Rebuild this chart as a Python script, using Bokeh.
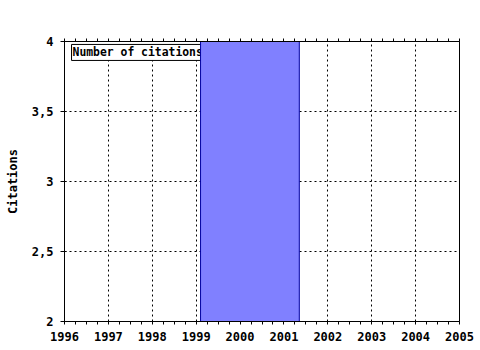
from bokeh.plotting import figure
from bokeh.models import FixedTicker, LinearAxis, Label, Range1d, CustomJSTickFormatter
from bokeh.embed import file_html
from bokeh.resources import INLINE

# Data
bar_left = [1999.1]
bar_right = [2001.35]
bar_value = [4]
years = [1996, 1997, 1998, 1999, 2000, 2001, 2002, 2003, 2004, 2005]
y_ticks = [2, 2.5, 3, 3.5, 4]
y_tick_labels = ["2", "2,5", "3", "3,5", "4"]
series_name = "Number of citations"
y_title = "Citations"

FONT = "DejaVu Sans Mono"

p = figure(width=480, height=350, output_backend="svg", toolbar_location=None,
           x_range=Range1d(years[0], years[-1]), y_range=Range1d(y_ticks[0], y_ticks[-1]),
           min_border_left=64, min_border_right=21, min_border_top=41, min_border_bottom=29,
           x_axis_location="below")
p.background_fill_color = "white"
p.border_fill_color = "white"
p.outline_line_color = "black"
p.outline_line_width = 1

minor = [y + q / 4 for y in years[:-1] for q in (1, 2, 3)]
xt = FixedTicker(ticks=years, minor_ticks=minor)
yt = FixedTicker(ticks=y_ticks)

p.xaxis.ticker = xt
p.yaxis.ticker = yt
p.yaxis.major_label_overrides = {t: l for t, l in zip(y_ticks, y_tick_labels)}

for ax in (p.xaxis[0], p.yaxis[0]):
    ax.axis_line_color = "black"
    ax.major_tick_line_color = "black"
    ax.minor_tick_line_color = "black"
    ax.major_label_text_font = FONT
    ax.major_label_text_font_style = "bold"
    ax.major_label_text_font_size = "12px"
    ax.major_label_text_color = "black"

p.xaxis.major_tick_in = 0
p.xaxis.major_tick_out = 3
p.xaxis.minor_tick_in = 0
p.xaxis.minor_tick_out = 3
p.xaxis.major_label_standoff = 7

p.yaxis.major_tick_in = 2
p.yaxis.major_tick_out = 4
p.yaxis.minor_tick_line_color = None
p.yaxis.major_label_standoff = 7
p.yaxis.axis_label = y_title
p.yaxis.axis_label_text_font = FONT
p.yaxis.axis_label_text_font_style = "bold"
p.yaxis.axis_label_text_font_size = "12px"
p.yaxis.axis_label_text_color = "black"
p.yaxis.axis_label_standoff = 9

top = LinearAxis(ticker=xt, major_tick_in=0, major_tick_out=3, minor_tick_in=0, minor_tick_out=3,
                 formatter=CustomJSTickFormatter(code="return ''"),
                 major_label_text_font_size="1px", major_label_standoff=0,
                 axis_line_color="black",
                 major_tick_line_color="black", minor_tick_line_color="black")
p.add_layout(top, "above")

p.xgrid.ticker = FixedTicker(ticks=years[1:-1])
p.ygrid.ticker = FixedTicker(ticks=y_ticks[1:-1])
for g in (p.xgrid[0], p.ygrid[0]):
    g.grid_line_color = "black"
    g.grid_line_dash = "2 3"
    g.grid_line_width = 1

lab = Label(x=years[0] + 0.16, y=y_ticks[-1] - 0.021, text=series_name,
            text_font=FONT, text_font_style="bold", text_font_size="11.4px",
            text_align="left", text_baseline="top", text_color="black",
            background_fill_color="white", border_line_color="black", border_line_width=1,
            padding=1, level="underlay")
p.add_layout(lab)

p.quad(left=bar_left, right=bar_right, bottom=[0], top=bar_value,
       fill_color="#8080FF", line_color="#0000A0", line_width=1)

open("out.html", "w").write(file_html(p, INLINE))
